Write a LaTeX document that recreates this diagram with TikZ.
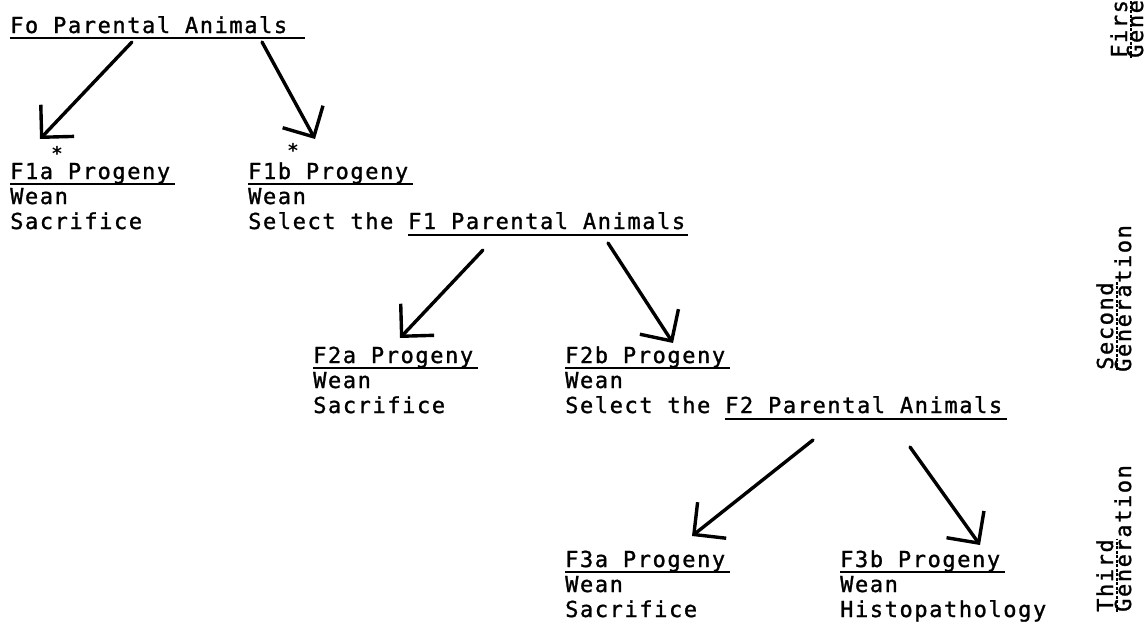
\documentclass[tikz,border=0pt]{standalone}
\usepackage{fontspec}
\usetikzlibrary{arrows.meta}
\newfontfamily\tw{DejaVu Sans Mono}[LetterSpace=7.2,FakeBold=1.2]
\newfontfamily\twb{DejaVu Sans Mono Bold}
\tikzset{
 txt/.style={inner sep=0pt, anchor=base west, font=\tw\fontsize{22}{25}\selectfont},
 ul/.style={line width=1.6pt},
 arr/.style={line width=3.4pt, line cap=round, line join=round, -{Straight Barb[length=23pt,width=46pt,line width=3.4pt]}},
 gen/.style={txt, rotate=90},
 gul/.style={line width=1.6pt, dash pattern=on 3pt off 1.5pt},
 star/.style={inner sep=0pt, font=\twb\fontsize{19}{19}\selectfont}
}
\begin{document}
\begin{tikzpicture}[x=1pt,y=-1pt]
\useasboundingbox (0,0) rectangle (1145,629);
% generation Fo
\node[txt] (fo) at (10,33) {Fo Parental Animals};
\draw[ul] ([yshift=-5pt]fo.base west) -- ([yshift=-5pt,xshift=18pt]fo.base east);
% F1a
\node[txt] (f1a) at (10,179) {F1a Progeny};
\draw[ul] ([yshift=-5pt]f1a.base west) -- ([yshift=-5pt,xshift=5pt]f1a.base east);
\node[txt] (f1aw) at (10,204) {Wean};
\node[txt] (f1as) at (10,229) {Sacrifice};
\node[star] (st1) at (57,153) {*};
% F1b
\node[txt] (f1b) at (248,179) {F1b Progeny};
\draw[ul] ([yshift=-5pt]f1b.base west) -- ([yshift=-5pt,xshift=5pt]f1b.base east);
\node[txt] (f1bw) at (248,204) {Wean};
\node[txt] (f1bs) at (248,229) {Select the};
\node[txt] (p1) at ([xshift=14.45pt]f1bs.base east) {F1 Parental Animals};
\draw[ul] ([yshift=-6pt]p1.base west) -- ([yshift=-6pt,xshift=3pt]p1.base east);
\node[star] (st2) at (293,150) {*};
% F2a
\node[txt] (f2a) at (313,363) {F2a Progeny};
\draw[ul] ([yshift=-5pt]f2a.base west) -- ([yshift=-5pt,xshift=5pt]f2a.base east);
\node[txt] (f2aw) at (313,388) {Wean};
\node[txt] (f2as) at (313,413) {Sacrifice};
% F2b
\node[txt] (f2b) at (565,363) {F2b Progeny};
\draw[ul] ([yshift=-5pt]f2b.base west) -- ([yshift=-5pt,xshift=5pt]f2b.base east);
\node[txt] (f2bw) at (565,388) {Wean};
\node[txt] (f2bs) at (565,413) {Select the};
\node[txt] (p2) at ([xshift=14.45pt]f2bs.base east) {F2 Parental Animals};
\draw[ul] ([yshift=-6pt]p2.base west) -- ([yshift=-6pt,xshift=5pt]p2.base east);
% F3a
\node[txt] (f3a) at (565,567) {F3a Progeny};
\draw[ul] ([yshift=-5pt]f3a.base west) -- ([yshift=-5pt,xshift=5pt]f3a.base east);
\node[txt] (f3aw) at (565,592) {Wean};
\node[txt] (f3as) at (565,617) {Sacrifice};
% F3b
\node[txt] (f3b) at (840,567) {F3b Progeny};
\draw[ul] ([yshift=-5pt]f3b.base west) -- ([yshift=-5pt,xshift=5pt]f3b.base east);
\node[txt] (f3bw) at (840,592) {Wean};
\node[txt] (f3bs) at (840,617) {Histopathology};
% arrows
\coordinate (a1s) at (132,42);  \coordinate (a1e) at (40,139);
\coordinate (a2s) at (262,42);  \coordinate (a2e) at (315,139);
\coordinate (a3s) at (483,250); \coordinate (a3e) at (400,338);
\coordinate (a4s) at (608,243); \coordinate (a4e) at (673,343);
\coordinate (a5s) at (813,440); \coordinate (a5e) at (692,536);
\coordinate (a6s) at (910,447); \coordinate (a6e) at (980,545);
\draw[arr] (a1s) -- (a1e);
\draw[arr] (a2s) -- (a2e);
\draw[arr] (a3s) -- (a3e);
\draw[arr] (a4s) -- (a4e);
\draw[arr] (a5s) -- (a5e);
\draw[arr] (a6s) -- (a6e);
% generation labels
\node[gen] (g1a) at (1127,58) {First};
\draw[gul] ([xshift=4pt]g1a.base west) -- ([xshift=4pt]g1a.base east);
\node[gen] (g1b) at (1143,58) {Generation};
\node[gen] (g2a) at (1113,370) {Second};
\draw[gul] ([xshift=4pt]g2a.base west) -- ([xshift=4pt]g2a.base east);
\node[gen] (g2b) at (1131,372) {Generation};
\node[gen] (g3a) at (1113,612) {Third};
\draw[gul] ([xshift=4pt]g3a.base west) -- ([xshift=4pt]g3a.base east);
\node[gen] (g3b) at (1131,612) {Generation};
\end{tikzpicture}
\end{document}
